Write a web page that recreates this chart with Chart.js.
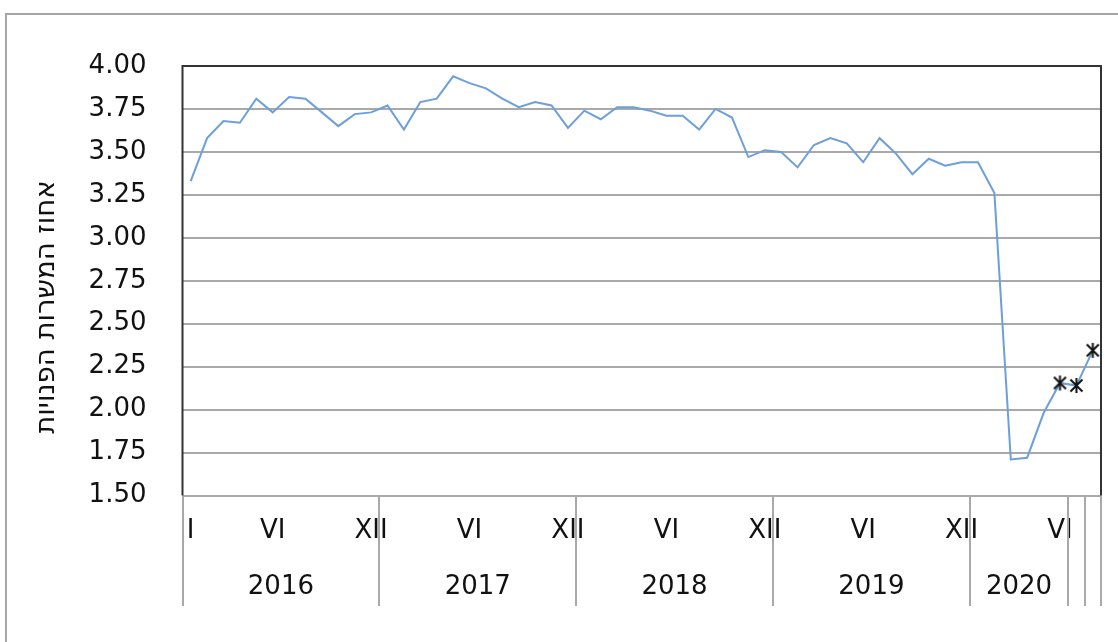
<!DOCTYPE html>
<html>
<head>
<meta charset="utf-8">
<script src="https://cdn.jsdelivr.net/npm/chart.js@4/dist/chart.umd.min.js"></script>
<style>
  html, body { margin: 0; background: #fff; }
  #wrap { width: 1118px; height: 642px; position: relative; }
</style>
</head>
<body>
<div id="wrap"><canvas id="vacancyChart"></canvas></div>
<script>
// Year groups on the category axis (the last two months stand alone, unlabeled)
const yearLabels = ['2016', '2017', '2018', '2019', '2020', '', ''];
const monthsInGroup = [12, 12, 12, 12, 6, 1, 1];
const romanMonths = ['I', 'II', 'III', 'IV', 'V', 'VI', 'VII', 'VIII', 'IX', 'X', 'XI', 'XII'];
const labelledMonths = ['VI', 'XII'];

// Job vacancy rate, monthly, Jan 2016 - Aug 2020
const vacancyRate = [
  3.33, 3.58, 3.68, 3.67, 3.81, 3.73, 3.82, 3.81, 3.73, 3.65, 3.72, 3.73,
  3.77, 3.63, 3.79, 3.81, 3.94, 3.90, 3.87, 3.81, 3.76, 3.79, 3.77, 3.64,
  3.74, 3.69, 3.76, 3.76, 3.74, 3.71, 3.71, 3.63, 3.75, 3.70, 3.47, 3.51,
  3.50, 3.41, 3.54, 3.58, 3.55, 3.44, 3.58, 3.49, 3.37, 3.46, 3.42, 3.44,
  3.44, 3.26, 1.71, 1.72, 1.98, 2.155,
  2.14,
  2.345
];
// months marked with a star (provisional estimates)
const starredFrom = 53;

const yTitle = 'אחוז המשרות הפנויות';
const FONT = 'DejaVu Sans';
const TEXT = '#111';
const GRID = '#a9a9a9';

// build category labels and year-group centres
const categories = [];
const yearCenters = [];
let m = 0;
monthsInGroup.forEach((n, g) => {
  yearCenters.push(categories.length + (n - 1) / 2);
  for (let k = 0; k < n; k++) { categories.push(romanMonths[m % 12]); m++; }
});

// asterisk marker
const star = document.createElement('canvas');
star.width = 17; star.height = 17;
(function () {
  const c = star.getContext('2d');
  c.strokeStyle = '#111'; c.lineWidth = 2;
  c.beginPath();
  c.moveTo(2.5, 2.5); c.lineTo(14.5, 14.5);
  c.moveTo(14.5, 2.5); c.lineTo(2.5, 14.5);
  c.moveTo(8.5, 1); c.lineTo(8.5, 16);
  c.stroke();
})();

const decor = {
  id: 'decor',
  beforeDraw(chart) {
    const ctx = chart.ctx;
    ctx.save();
    ctx.fillStyle = '#fff';
    ctx.fillRect(0, 0, chart.width, chart.height);
    // outer frame (runs off the right and bottom edges)
    ctx.strokeStyle = '#a6a6a6'; ctx.lineWidth = 2;
    ctx.beginPath();
    ctx.moveTo(6, chart.height); ctx.lineTo(6, 14); ctx.lineTo(chart.width, 14);
    ctx.stroke();
    ctx.restore();
  },
  afterDraw(chart) {
    const { ctx, chartArea: a, scales: { x } } = chart;
    ctx.save();
    // group separators under the axis
    ctx.strokeStyle = GRID; ctx.lineWidth = 2;
    let b = -0.5;
    const bounds = [b];
    monthsInGroup.forEach(n => { b += n; bounds.push(b); });
    ctx.beginPath();
    bounds.forEach(v => {
      const px = Math.round(x.getPixelForValue(v));
      ctx.moveTo(px, a.bottom); ctx.lineTo(px, 606);
    });
    ctx.stroke();
    // plot border: left, top, right
    ctx.strokeStyle = '#333'; ctx.lineWidth = 2;
    ctx.beginPath();
    ctx.moveTo(a.left, a.bottom); ctx.lineTo(a.left, a.top);
    ctx.lineTo(a.right, a.top); ctx.lineTo(a.right, a.bottom);
    ctx.stroke();
    // rotated y-axis title
    ctx.translate(47, 307);
    ctx.rotate(-Math.PI / 2);
    ctx.fillStyle = TEXT;
    ctx.font = '27.5px "' + FONT + '"';
    ctx.textAlign = 'center';
    ctx.textBaseline = 'middle';
    ctx.direction = 'rtl';
    ctx.fillText(yTitle, 0, 0);
    ctx.restore();
  }
};

new Chart(document.getElementById('vacancyChart'), {
  type: 'line',
  data: {
    labels: categories,
    datasets: [{
      data: vacancyRate,
      borderColor: '#6c9fdb',
      borderWidth: 2,
      tension: 0,
      pointStyle: star,
      pointRadius: ctx => ctx.dataIndex >= starredFrom ? 6 : 0,
      pointHoverRadius: 0
    }]
  },
  options: {
    responsive: true,
    maintainAspectRatio: false,
    animation: false,
    events: [],
    layout: { padding: { top: 66, right: 17, bottom: 0, left: 0 } },
    plugins: { legend: { display: false }, tooltip: { enabled: false } },
    scales: {
      y: {
        min: 1.5,
        max: 4,
        afterFit: s => { s.width = 182.5; },
        ticks: {
          stepSize: 0.25,
          padding: 36,
          color: TEXT,
          font: { family: FONT, size: 26 },
          callback: v => v.toFixed(2)
        },
        grid: { color: GRID, lineWidth: 2, drawTicks: false },
        border: { display: false }
      },
      x: {
        type: 'category',
        offset: true,
        afterFit: s => { s.height = 62; },
        grid: { display: false, drawTicks: false },
        border: { display: false },
        ticks: {
          autoSkip: false,
          maxRotation: 0,
          padding: 20,
          color: TEXT,
          font: { family: FONT, size: 26 },
          callback: function (v, i) {
            const lbl = this.getLabelForValue(v);
            return (i === 0 || labelledMonths.includes(lbl)) ? lbl : '';
          }
        }
      },
      xYear: {
        type: 'linear',
        position: 'bottom',
        bounds: 'data',
        min: -0.5,
        max: categories.length - 0.5,
        afterFit: s => { s.height = 84.5; },
        afterBuildTicks: s => {
          s.ticks = yearCenters.filter((c, g) => yearLabels[g] !== '').map(c => ({ value: c }));
        },
        grid: { display: false, drawTicks: false },
        border: { display: false },
        ticks: {
          autoSkip: false,
          maxRotation: 0,
          padding: 14,
          color: TEXT,
          font: { family: FONT, size: 26 },
          callback: v => yearLabels[yearCenters.indexOf(v)]
        }
      }
    }
  },
  plugins: [decor]
});
</script>
</body>
</html>
